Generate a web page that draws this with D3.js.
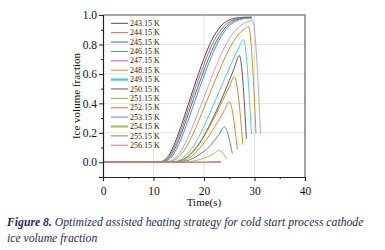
<!DOCTYPE html>
<html>
<head>
<meta charset="utf-8">
<script src="https://cdn.jsdelivr.net/npm/d3@7"></script>
<style>
  body { margin: 0; background: #fff; }
  svg { display: block; }
</style>
</head>
<body>
<svg id="chart" width="385" height="250"></svg>
<script>
// temperatures in the legend, top to bottom
const temps = ["243.15 K", "244.15 K", "245.15 K", "246.15 K", "247.15 K", "248.15 K", "249.15 K",
               "250.15 K", "251.15 K", "252.15 K", "253.15 K", "254.15 K", "255.15 K", "256.15 K"];

// shared time grid (s)
const times = [0, 11, 12, 13, 14, 15, 16, 17, 18, 19, 20, 21, 22, 23, 24, 25, 26, 27, 28, 29];

// ice volume fraction, null after the peak
const ice243 = [0, 0, 0.012, 0.045, 0.112, 0.200, 0.300, 0.405, 0.510, 0.610, 0.705, 0.790, 0.860, 0.910, 0.946, 0.966, 0.977, 0.982, 0.985, 0.986];
const ice244 = [0, 0, 0.008, 0.034, 0.094, 0.175, 0.270, 0.372, 0.475, 0.572, 0.665, 0.752, 0.825, 0.882, 0.925, 0.953, 0.970, 0.978, 0.982, 0.983];
const ice245 = [0, 0, 0.005, 0.025, 0.076, 0.150, 0.240, 0.338, 0.436, 0.532, 0.625, 0.713, 0.790, 0.855, 0.905, 0.940, 0.962, 0.973, 0.979, 0.981];
const ice246 = [0, 0, 0.003, 0.017, 0.056, 0.122, 0.205, 0.298, 0.396, 0.493, 0.588, 0.677, 0.760, 0.830, 0.885, 0.926, 0.952, 0.968, 0.976, 0.979];
const ice247 = [0, 0, 0, 0.005, 0.020, 0.055, 0.110, 0.182, 0.265, 0.352, 0.442, 0.532, 0.620, 0.703, 0.776, 0.838, 0.886, 0.920, 0.945, 0.958];
const ice248 = [0, 0, 0, 0.002, 0.012, 0.037, 0.078, 0.135, 0.205, 0.285, 0.370, 0.455, 0.540, 0.620, 0.700, 0.770, 0.830, 0.875, 0.905, null];
const ice249 = [0, 0, 0, 0, 0.003, 0.012, 0.033, 0.068, 0.115, 0.175, 0.245, 0.320, 0.400, 0.480, 0.560, 0.640, 0.715, 0.785, null, null];
const ice250 = [0, 0, 0, 0, 0.002, 0.007, 0.020, 0.045, 0.080, 0.125, 0.180, 0.245, 0.315, 0.390, 0.470, 0.555, 0.640, null, null, null];
const ice251 = [0, 0, 0, 0, 0.001, 0.005, 0.018, 0.042, 0.075, 0.120, 0.175, 0.235, 0.300, 0.370, 0.440, 0.510, null, null, null, null];
const ice252 = [0, 0, 0, 0, 0, 0.002, 0.010, 0.028, 0.055, 0.090, 0.132, 0.180, 0.235, 0.290, 0.350, null, null, null, null, null];
const ice253 = [0, 0, 0, 0, 0, 0.001, 0.005, 0.015, 0.030, 0.050, 0.075, 0.105, 0.145, 0.190, null, null, null, null, null, null];
const ice254 = [0, 0, 0, 0, 0, 0, 0.001, 0.004, 0.009, 0.017, 0.028, 0.042, 0.060, null, null, null, null, null, null, null];
const ice255 = [0, 0, 0, 0, 0, 0, 0, 0, 0, 0.001, 0.001, 0.002, 0.003, null, null, null, null, null, null, null];
const ice256 = [0, 0, 0, 0, 0, 0, 0, 0, 0, 0, 0, 0, 0, null, null, null, null, null, null, null];
const iceSeries = [ice243, ice244, ice245, ice246, ice247, ice248, ice249, ice250, ice251, ice252, ice253, ice254, ice255, ice256];

// peak of each curve and where the sharp drop ends (null = no drop)
const peakTime = [29.4, 29.45, 29.5, 29.55, 29.6, 28.8, 27.8, 27.0, 26.0, 25.0, 24.0, 23.0, 23.3, 23.3];
const peakFrac = [0.986, 0.983, 0.981, 0.979, 0.965, 0.922, 0.832, 0.725, 0.580, 0.410, 0.240, 0.080, 0.004, 0];
const endTime  = [null, null, null, null, 31.2, 30.3, 29.4, 28.4, 27.7, 26.6, 25.6, 24.5, null, null];
const endFrac  = [null, null, null, null, 0.195, 0.195, 0.190, 0.160, 0.120, 0.086, 0.060, 0.020, null, null];

const xTicks = [0, 10, 20, 30, 40];
const yTicks = [0.0, 0.2, 0.4, 0.6, 0.8, 1.0];

const colors = ["#4d4d4d", "#f25757", "#2f6fe0", "#3cae7a", "#c89be8", "#cc9900", "#3fd8d0",
                "#7d4e4e", "#9aa520", "#ff7f2a", "#4a8ad8", "#8fd14f", "#808080", "#ff6b6b"];
const legendWidth = [1, 1, 1, 1, 1.6, 1, 2.4, 1, 1, 1.2, 1, 2.2, 1, 1];

const font = "'Liberation Serif', 'Times New Roman', serif";
const pLeft = 103, pRight = 305, pTop = 15, pBottom = 177;

const svg = d3.select("#chart");

const x = d3.scaleLinear([0, 40], [pLeft, pRight]);
const y = d3.scaleLinear([-0.1, 1.0], [pBottom, pTop]);

// grid
svg.append("g")
    .selectAll("line")
    .data([10, 20, 30])
    .join("line")
    .attr("x1", d => x(d)).attr("x2", d => x(d))
    .attr("y1", pTop).attr("y2", pBottom)
    .attr("stroke", "#e4e4e4").attr("stroke-width", 1);

svg.append("g")
    .selectAll("line")
    .data([0.2, 0.4, 0.6, 0.8])
    .join("line")
    .attr("x1", pLeft).attr("x2", pRight)
    .attr("y1", d => y(d)).attr("y2", d => y(d))
    .attr("stroke", "#e4e4e4").attr("stroke-width", 1);

// frame top / right
svg.append("path")
    .attr("d", `M${pLeft},${pTop}H${pRight}V${pBottom}`)
    .attr("fill", "none")
    .attr("stroke", "#8a8a8a")
    .attr("stroke-width", 1.6);

// curves
const line = d3.line()
    .x(d => x(d[0]))
    .y(d => y(d[1]))
    .curve(d3.curveMonotoneX);

const curves = iceSeries.map((vals, i) => {
    const pts = [];
    times.forEach((t, j) => {
        if (vals[j] !== null && t < peakTime[i]) pts.push([t, vals[j]]);
    });
    pts.push([peakTime[i], peakFrac[i]]);
    if (endTime[i] !== null) pts.push([endTime[i], endFrac[i]]);
    return pts;
});

svg.append("g")
    .selectAll("path")
    .data(curves)
    .join("path")
    .attr("d", line)
    .attr("fill", "none")
    .attr("stroke", (d, i) => colors[i])
    .attr("stroke-width", 1);

// axes
const xAxis = svg.append("g")
    .attr("transform", `translate(0,${pBottom})`)
    .call(d3.axisBottom(x).tickValues(xTicks).tickSize(4).tickFormat(d3.format("d")));
svg.append("g")
    .attr("transform", `translate(0,${pBottom})`)
    .call(d3.axisBottom(x).tickValues([5, 15, 25, 35]).tickSize(2).tickFormat(""))
    .select(".domain").remove();

const yAxis = svg.append("g")
    .attr("transform", `translate(${pLeft},0)`)
    .call(d3.axisLeft(y).tickValues(yTicks).tickSize(4).tickFormat(d3.format(".1f")));
svg.append("g")
    .attr("transform", `translate(${pLeft},0)`)
    .call(d3.axisLeft(y).tickValues([-0.1, 0.1, 0.3, 0.5, 0.7, 0.9]).tickSize(2).tickFormat(""))
    .select(".domain").remove();

svg.selectAll(".domain").attr("stroke", "#222").attr("stroke-width", 1.2);
svg.selectAll(".tick line").attr("stroke", "#222");

xAxis.selectAll("text")
    .attr("font-family", font).attr("font-size", "11.5px").attr("fill", "#111")
    .attr("dy", "0.95em");
yAxis.selectAll("text")
    .attr("font-family", font).attr("font-size", "11.5px").attr("fill", "#111")
    .attr("x", -6);

// axis titles
svg.append("text")
    .attr("x", (pLeft + pRight) / 2)
    .attr("y", 206)
    .attr("text-anchor", "middle")
    .attr("font-family", font).attr("font-size", "11px").attr("fill", "#111")
    .text("Time(s)");

svg.append("text")
    .attr("transform", `translate(80,${(pTop + pBottom) / 2}) rotate(-90)`)
    .attr("text-anchor", "middle")
    .attr("font-family", font).attr("font-size", "11px").attr("fill", "#111")
    .text("Ice volume fraction");

// legend
const legend = svg.append("g")
    .selectAll("g")
    .data(temps)
    .join("g")
    .attr("transform", (d, i) => `translate(111,${23.3 + i * 9.38})`);

legend.append("line")
    .attr("x1", 0).attr("x2", 17)
    .attr("stroke", (d, i) => colors[i])
    .attr("stroke-width", (d, i) => legendWidth[i]);

legend.append("text")
    .attr("x", 19)
    .attr("dy", "0.33em")
    .attr("font-family", font).attr("font-size", "8px").attr("fill", "#222")
    .text(d => d);

// caption
const cap = svg.append("g")
    .attr("font-family", font).attr("font-size", "11.7px")
    .attr("font-style", "italic").attr("fill", "#1c2a5a");

const line1 = cap.append("text").attr("x", 7).attr("y", 226);
line1.append("tspan").attr("font-weight", "bold").text("Figure 8.");
line1.append("tspan").text(" Optimized assisted heating strategy for cold start process cathode");

cap.append("text").attr("x", 7).attr("y", 242).text("ice volume fraction");
</script>
</body>
</html>
